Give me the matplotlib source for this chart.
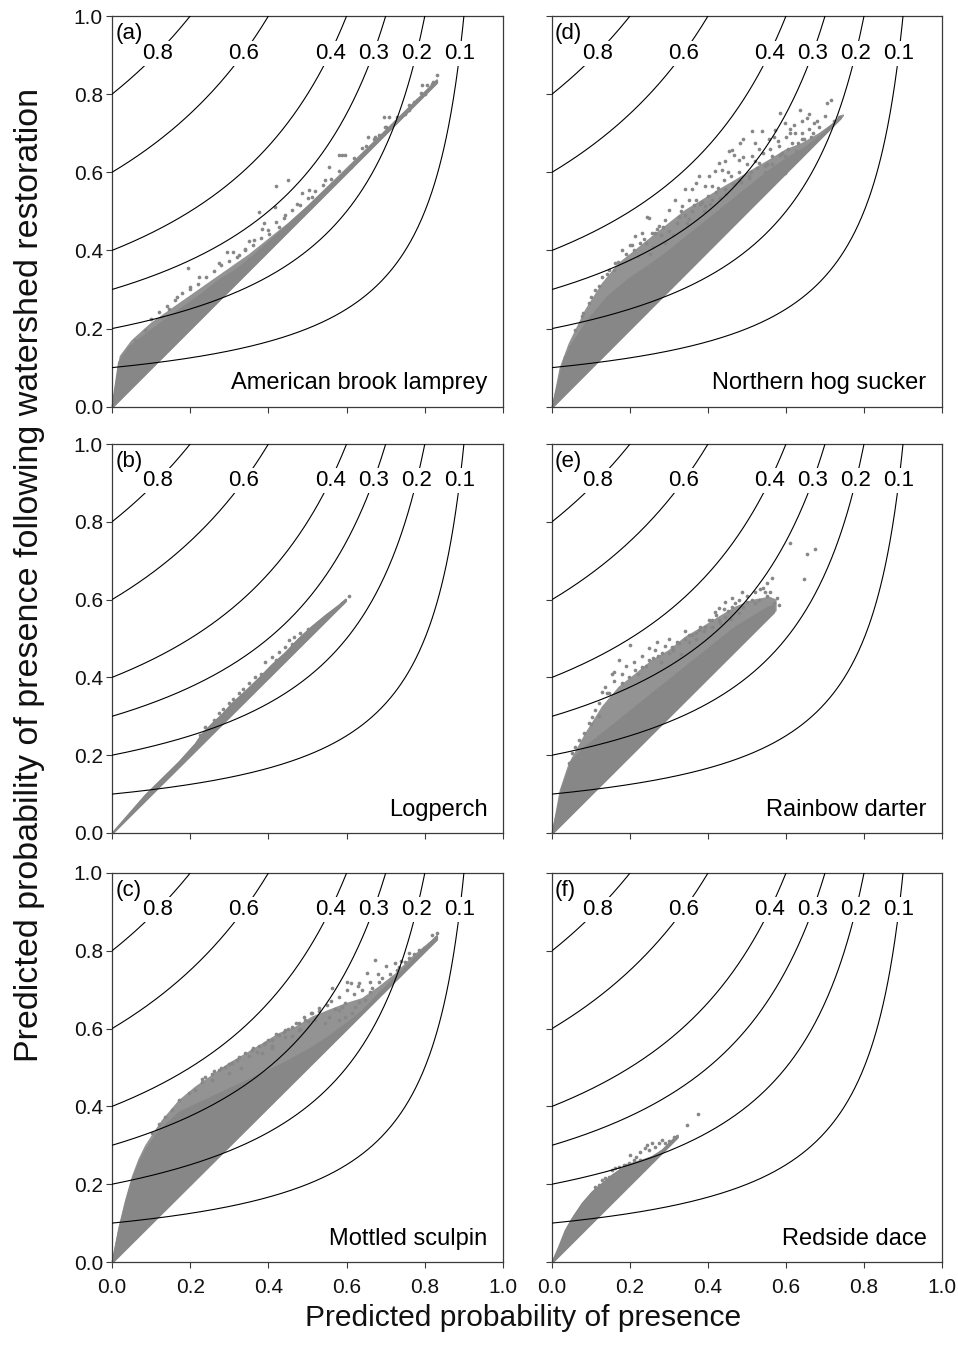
import matplotlib
matplotlib.use('Agg')
import matplotlib.pyplot as plt
import numpy as np

plt.rcParams['font.family'] = ['Liberation Sans', 'DejaVu Sans']

# ---------------- data ----------------
contour_levels = [0.8, 0.6, 0.4, 0.3, 0.2, 0.1]
contour_labels = ['0.8', '0.6', '0.4', '0.3', '0.2', '0.1']
tick_values = [0.0, 0.2, 0.4, 0.6, 0.8, 1.0]
tick_labels = ['0.0', '0.2', '0.4', '0.6', '0.8', '1.0']
panel_letters = ['(a)', '(b)', '(c)', '(d)', '(e)', '(f)']
species = ['American brook lamprey', 'Logperch', 'Mottled sculpin',
           'Northern hog sucker', 'Rainbow darter', 'Redside dace']

# Each panel: solid core (between 1:1 line and core upper edge), speckled
# mid-density band (up to mid upper edge) and individual sparse points.

# (a) American brook lamprey
a_core_x = [0, 0.017, 0.043, 0.077, 0.111, 0.145, 0.188, 0.23, 0.273, 0.315, 0.358, 0.40, 0.443, 0.511, 0.597, 0.682, 0.76, 0.83]
a_core_y = [0, 0.115, 0.153, 0.179, 0.205, 0.23, 0.26, 0.29, 0.324, 0.35, 0.384, 0.422, 0.46, 0.522, 0.604, 0.688, 0.765, 0.835]
a_mid_x = [0, 0.02, 0.05, 0.10, 0.15, 0.20, 0.25, 0.30, 0.35, 0.40, 0.45, 0.50, 0.60, 0.70, 0.80, 0.83]
a_mid_y = [0, 0.13, 0.17, 0.215, 0.25, 0.285, 0.32, 0.355, 0.39, 0.43, 0.47, 0.515, 0.612, 0.71, 0.808, 0.838]
a_pts_x = [0.831, 0.818, 0.806, 0.793, 0.801, 0.780, 0.772, 0.759, 0.750, 0.708, 0.695, 0.725, 0.699, 0.682, 0.673, 0.656, 0.639,
           0.597, 0.588, 0.580, 0.610, 0.554, 0.546, 0.563, 0.450, 0.419, 0.503, 0.512, 0.486, 0.375, 0.418, 0.443, 0.473,
           0.426, 0.401, 0.384, 0.362, 0.341, 0.324, 0.294, 0.350, 0.273, 0.194, 0.222, 0.200, 0.166, 0.145, 0.128, 0.085,
           0.060, 0.034,
           0.10, 0.12, 0.14, 0.16, 0.18, 0.20, 0.22, 0.24, 0.26, 0.28, 0.30, 0.32, 0.34, 0.36, 0.38, 0.40, 0.42, 0.44,
           0.46, 0.48, 0.50, 0.52, 0.54, 0.56, 0.58, 0.62, 0.65, 0.67, 0.70, 0.73, 0.76, 0.79, 0.82, 0.31, 0.35, 0.39]
a_pts_y = [0.848, 0.827, 0.823, 0.823, 0.801, 0.784, 0.780, 0.759, 0.750, 0.742, 0.742, 0.729, 0.716, 0.695, 0.691, 0.691, 0.661,
           0.644, 0.644, 0.644, 0.614, 0.614, 0.580, 0.571, 0.581, 0.566, 0.554, 0.537, 0.546, 0.499, 0.512, 0.490, 0.520,
           0.460, 0.443, 0.456, 0.426, 0.401, 0.388, 0.396, 0.379, 0.367, 0.355, 0.332, 0.307, 0.280, 0.251, 0.230, 0.196,
           0.170, 0.132,
           0.225, 0.242, 0.258, 0.272, 0.292, 0.302, 0.315, 0.333, 0.347, 0.362, 0.372, 0.384, 0.404, 0.413, 0.433, 0.452,
           0.472, 0.483, 0.503, 0.517, 0.533, 0.553, 0.567, 0.583, 0.603, 0.637, 0.668, 0.686, 0.717, 0.742, 0.772, 0.802,
           0.832, 0.395, 0.425, 0.47]

# (b) Logperch
b_core_x = [0, 0.085, 0.171, 0.213, 0.230, 0.256, 0.281, 0.307, 0.341, 0.375, 0.409, 0.443, 0.477, 0.512, 0.546, 0.580, 0.597]
b_core_y = [0, 0.098, 0.183, 0.230, 0.255, 0.282, 0.305, 0.334, 0.365, 0.398, 0.433, 0.464, 0.500, 0.532, 0.560, 0.586, 0.601]
b_mid_x = b_core_x
b_mid_y = b_core_y
b_pts_x = [0.605, 0.588, 0.482, 0.465, 0.452, 0.443, 0.426, 0.409, 0.392, 0.367, 0.350, 0.324, 0.298, 0.273, 0.239,
           0.50, 0.46, 0.42, 0.38, 0.335, 0.31, 0.285, 0.26, 0.225]
b_pts_y = [0.609, 0.592, 0.513, 0.505, 0.496, 0.479, 0.466, 0.453, 0.440, 0.402, 0.385, 0.359, 0.333, 0.308, 0.273,
           0.525, 0.485, 0.445, 0.41, 0.37, 0.345, 0.318, 0.29, 0.252]

# (c) Mottled sculpin
c_core_x = [0, 0.017, 0.034, 0.051, 0.068, 0.085, 0.111, 0.128, 0.171, 0.213, 0.256, 0.298, 0.341, 0.384, 0.426, 0.469,
            0.512, 0.554, 0.597, 0.639, 0.682, 0.75, 0.80, 0.83]
c_core_y = [0, 0.082, 0.151, 0.211, 0.254, 0.288, 0.325, 0.345, 0.385, 0.405, 0.425, 0.445, 0.465, 0.485, 0.505, 0.528,
            0.552, 0.58, 0.612, 0.645, 0.690, 0.758, 0.808, 0.838]
c_mid_x = [0, 0.017, 0.034, 0.051, 0.068, 0.085, 0.111, 0.128, 0.171, 0.213, 0.256, 0.298, 0.341, 0.384, 0.426, 0.469,
           0.512, 0.554, 0.597, 0.639, 0.682, 0.725, 0.767, 0.818, 0.83]
c_mid_y = [0, 0.09, 0.16, 0.22, 0.265, 0.30, 0.34, 0.365, 0.416, 0.451, 0.481, 0.511, 0.536, 0.562, 0.588, 0.605,
           0.631, 0.648, 0.665, 0.678, 0.708, 0.742, 0.785, 0.828, 0.84]
c_pts_x = [0.831, 0.818, 0.823, 0.810, 0.797, 0.784, 0.772, 0.759, 0.750, 0.733, 0.725, 0.729, 0.673, 0.652, 0.631, 0.610,
           0.601, 0.682, 0.691, 0.665, 0.661, 0.648, 0.631, 0.622, 0.597, 0.588, 0.580, 0.563, 0.529, 0.512, 0.520, 0.494,
           0.477, 0.460, 0.443, 0.426, 0.409, 0.392, 0.375, 0.358, 0.341, 0.324, 0.307, 0.290, 0.273, 0.256, 0.239, 0.230,
           0.554, 0.546, 0.597, 0.614, 0.580, 0.477, 0.443, 0.409, 0.384, 0.298, 0.256, 0.213, 0.196, 0.171, 0.153, 0.136,
           0.119, 0.102,
           0.23, 0.26, 0.28, 0.30, 0.32, 0.33, 0.35, 0.36, 0.37, 0.39, 0.40, 0.41, 0.42, 0.44, 0.45, 0.46, 0.47, 0.48,
           0.49, 0.50, 0.51, 0.53, 0.55, 0.56, 0.57, 0.58, 0.60, 0.62, 0.63, 0.64, 0.66, 0.68, 0.70, 0.71, 0.74, 0.76]
c_pts_y = [0.845, 0.841, 0.828, 0.815, 0.806, 0.802, 0.793, 0.781, 0.772, 0.759, 0.768, 0.751, 0.776, 0.742, 0.716, 0.716,
           0.721, 0.721, 0.729, 0.704, 0.695, 0.674, 0.669, 0.656, 0.665, 0.656, 0.648, 0.704, 0.652, 0.639, 0.622, 0.622,
           0.614, 0.605, 0.596, 0.584, 0.571, 0.562, 0.554, 0.545, 0.536, 0.528, 0.511, 0.502, 0.494, 0.483, 0.476, 0.464,
           0.631, 0.614, 0.631, 0.639, 0.622, 0.596, 0.579, 0.554, 0.536, 0.485, 0.468, 0.442, 0.434, 0.416, 0.391, 0.374,
           0.356, 0.331,
           0.47, 0.49, 0.50, 0.51, 0.52, 0.50, 0.53, 0.55, 0.54, 0.56, 0.57, 0.55, 0.585, 0.59, 0.60, 0.58, 0.615, 0.60,
           0.63, 0.62, 0.64, 0.645, 0.66, 0.67, 0.65, 0.68, 0.70, 0.69, 0.71, 0.70, 0.72, 0.74, 0.76, 0.74, 0.775, 0.795]

# (d) Northern hog sucker
d_core_x = [0, 0.03, 0.05, 0.09, 0.14, 0.20, 0.26, 0.30, 0.35, 0.40, 0.45, 0.50, 0.55, 0.60, 0.65, 0.70, 0.74]
d_core_y = [0, 0.12, 0.16, 0.22, 0.28, 0.33, 0.37, 0.40, 0.44, 0.48, 0.52, 0.56, 0.60, 0.635, 0.665, 0.705, 0.745]
d_mid_x = [0, 0.02, 0.043, 0.085, 0.128, 0.171, 0.214, 0.256, 0.299, 0.342, 0.385, 0.427, 0.47, 0.513, 0.556, 0.598, 0.641, 0.684, 0.726, 0.745]
d_mid_y = [0, 0.10, 0.162, 0.248, 0.316, 0.368, 0.402, 0.436, 0.47, 0.504, 0.53, 0.556, 0.581, 0.607, 0.632, 0.658, 0.675, 0.70, 0.73, 0.748]
d_pts_x = [0.716, 0.705, 0.737, 0.722, 0.658, 0.637, 0.641, 0.671, 0.654, 0.585, 0.598, 0.624, 0.611, 0.513, 0.538, 0.573,
           0.491, 0.483, 0.462, 0.453, 0.466, 0.444, 0.427, 0.436, 0.419, 0.479, 0.521, 0.556, 0.581, 0.598, 0.615, 0.632,
           0.564, 0.547, 0.530, 0.504, 0.402, 0.376, 0.368, 0.393, 0.359, 0.342, 0.350, 0.333, 0.316, 0.299, 0.291, 0.244,
           0.248, 0.274, 0.256, 0.231, 0.214, 0.201, 0.179, 0.162, 0.145, 0.128, 0.111, 0.094, 0.077, 0.060, 0.047, 0.034,
           0.479, 0.513, 0.444, 0.410, 0.393, 0.598, 0.581, 0.641,
           0.19, 0.21, 0.22, 0.24, 0.26, 0.28, 0.30, 0.32, 0.34, 0.36, 0.38, 0.40, 0.42, 0.44, 0.46, 0.48, 0.50, 0.52,
           0.54, 0.56, 0.58, 0.60, 0.62, 0.64, 0.66, 0.68, 0.70, 0.12, 0.14, 0.16, 0.10, 0.08, 0.27, 0.33, 0.37, 0.41,
           0.45, 0.49, 0.53, 0.57, 0.61, 0.17, 0.235, 0.25, 0.29, 0.31, 0.35, 0.39, 0.43, 0.47, 0.51, 0.55, 0.59, 0.63, 0.67,
           0.205, 0.225, 0.265, 0.285, 0.325, 0.345, 0.365, 0.385, 0.405, 0.425, 0.445, 0.465, 0.485, 0.505, 0.525, 0.545,
           0.565, 0.585, 0.605, 0.625, 0.645, 0.665, 0.685]
d_pts_y = [0.786, 0.778, 0.742, 0.731, 0.748, 0.759, 0.731, 0.726, 0.739, 0.752, 0.726, 0.701, 0.701, 0.705, 0.705, 0.709,
           0.684, 0.675, 0.658, 0.654, 0.645, 0.628, 0.624, 0.607, 0.603, 0.632, 0.675, 0.684, 0.667, 0.641, 0.675, 0.650,
           0.641, 0.615, 0.624, 0.590, 0.590, 0.590, 0.573, 0.564, 0.556, 0.556, 0.530, 0.513, 0.530, 0.504, 0.479, 0.485,
           0.483, 0.462, 0.444, 0.444, 0.436, 0.415, 0.402, 0.368, 0.350, 0.333, 0.299, 0.265, 0.231, 0.197, 0.154, 0.128,
           0.581, 0.641, 0.556, 0.530, 0.513, 0.598, 0.607, 0.684,
           0.39, 0.40, 0.385, 0.42, 0.41, 0.44, 0.45, 0.47, 0.49, 0.50, 0.52, 0.54, 0.55, 0.58, 0.59, 0.60, 0.62, 0.63,
           0.65, 0.66, 0.68, 0.69, 0.72, 0.70, 0.71, 0.73, 0.745, 0.31, 0.34, 0.35, 0.28, 0.24, 0.455, 0.50, 0.53, 0.565,
           0.60, 0.64, 0.66, 0.69, 0.71, 0.37, 0.43, 0.39, 0.42, 0.44, 0.48, 0.50, 0.535, 0.57, 0.60, 0.62, 0.65, 0.675, 0.70,
           0.415, 0.42, 0.445, 0.46, 0.485, 0.47, 0.515, 0.525, 0.52, 0.56, 0.545, 0.57, 0.575, 0.585, 0.61, 0.60,
           0.62, 0.645, 0.66, 0.655, 0.685, 0.69, 0.715]

# (e) Rainbow darter
e_core_x = [0, 0.026, 0.051, 0.085, 0.128, 0.171, 0.214, 0.256, 0.299, 0.342, 0.385, 0.427, 0.470, 0.513, 0.556, 0.568]
e_core_y = [0, 0.119, 0.188, 0.222, 0.256, 0.290, 0.325, 0.359, 0.393, 0.428, 0.462, 0.496, 0.530, 0.556, 0.582, 0.585]
e_mid_x = [0, 0.02, 0.043, 0.085, 0.128, 0.171, 0.214, 0.256, 0.299, 0.342, 0.385, 0.427, 0.470, 0.513, 0.556, 0.573]
e_mid_y = [0, 0.11, 0.179, 0.256, 0.325, 0.376, 0.41, 0.445, 0.47, 0.505, 0.53, 0.556, 0.582, 0.599, 0.607, 0.60]
e_pts_x = [0.611, 0.654, 0.675, 0.645, 0.564, 0.551, 0.534, 0.547, 0.577, 0.581, 0.560, 0.513, 0.500, 0.487, 0.462, 0.444,
           0.427, 0.419, 0.402, 0.393, 0.376, 0.368, 0.350, 0.342, 0.325, 0.308, 0.299, 0.282, 0.271, 0.248, 0.201, 0.171,
           0.158, 0.154, 0.248, 0.231, 0.214, 0.197, 0.179, 0.137, 0.128, 0.145, 0.120, 0.111, 0.103, 0.094, 0.081, 0.068,
           0.060, 0.051, 0.043, 0.462, 0.479, 0.521, 0.530, 0.410, 0.427, 0.444,
           0.14, 0.16, 0.18, 0.19, 0.21, 0.22, 0.24, 0.26, 0.265, 0.28, 0.29, 0.31, 0.32, 0.33, 0.35, 0.36, 0.37, 0.38,
           0.39, 0.41, 0.42, 0.43, 0.45, 0.46, 0.47, 0.48, 0.49, 0.50, 0.52, 0.53, 0.54, 0.55, 0.56, 0.57, 0.12, 0.10,
           0.23, 0.27, 0.30, 0.34, 0.44]
e_pts_y = [0.746, 0.716, 0.730, 0.652, 0.655, 0.642, 0.626, 0.620, 0.603, 0.586, 0.569, 0.599, 0.595, 0.620, 0.603, 0.595,
           0.578, 0.569, 0.548, 0.530, 0.522, 0.513, 0.509, 0.500, 0.488, 0.479, 0.462, 0.462, 0.455, 0.475, 0.483, 0.445,
           0.415, 0.410, 0.445, 0.428, 0.419, 0.402, 0.385, 0.376, 0.363, 0.359, 0.333, 0.316, 0.299, 0.282, 0.256, 0.239,
           0.222, 0.205, 0.179, 0.582, 0.565, 0.590, 0.556, 0.548, 0.548, 0.556,
           0.36, 0.39, 0.41, 0.43, 0.44, 0.41, 0.43, 0.45, 0.47, 0.44, 0.48, 0.47, 0.49, 0.46, 0.49, 0.51, 0.50, 0.53,
           0.52, 0.53, 0.56, 0.54, 0.57, 0.55, 0.59, 0.60, 0.58, 0.61, 0.62, 0.60, 0.63, 0.61, 0.62, 0.59, 0.30, 0.28,
           0.455, 0.49, 0.50, 0.52, 0.575]

# (f) Redside dace
f_core_x = [0, 0.017, 0.034, 0.051, 0.077, 0.103, 0.128, 0.154, 0.179, 0.205, 0.231, 0.256, 0.282, 0.308, 0.321]
f_core_y = [0, 0.039, 0.082, 0.112, 0.151, 0.181, 0.202, 0.224, 0.241, 0.254, 0.262, 0.271, 0.288, 0.314, 0.326]
f_mid_x = f_core_x
f_mid_y = f_core_y
f_pts_x = [0.374, 0.347, 0.312, 0.282, 0.274, 0.265, 0.256, 0.244, 0.248, 0.239, 0.226, 0.226, 0.209, 0.201, 0.197, 0.184,
           0.171, 0.162, 0.154, 0.145, 0.137, 0.128, 0.120, 0.111, 0.29, 0.30, 0.215, 0.19]
f_pts_y = [0.380, 0.353, 0.322, 0.314, 0.305, 0.296, 0.305, 0.301, 0.288, 0.292, 0.284, 0.262, 0.262, 0.275, 0.254, 0.249,
           0.245, 0.241, 0.237, 0.219, 0.215, 0.211, 0.198, 0.194, 0.305, 0.31, 0.27, 0.25]

panels = [
    (a_core_x, a_core_y, a_mid_x, a_mid_y, a_pts_x, a_pts_y),
    (b_core_x, b_core_y, b_mid_x, b_mid_y, b_pts_x, b_pts_y),
    (c_core_x, c_core_y, c_mid_x, c_mid_y, c_pts_x, c_pts_y),
    (d_core_x, d_core_y, d_mid_x, d_mid_y, d_pts_x, d_pts_y),
    (e_core_x, e_core_y, e_mid_x, e_mid_y, e_pts_x, e_pts_y),
    (f_core_x, f_core_y, f_mid_x, f_mid_y, f_pts_x, f_pts_y),
]

# ---------------- layout ----------------
W, H = 958, 1351
fig = plt.figure(figsize=(W / 100, H / 100), dpi=100)

col_left = [112 / W, 552 / W]
col_width = [391 / W, 390 / W]
row_top_px = [16, 444, 873]
row_bot_px = [406.7, 833, 1262]

dot_color = '#878787'
mid_color = '#939393'
spine_color = '#3a3a3a'
label_y = 0.905

for idx, (cx, cy, mx, my, px, py) in enumerate(panels):
    col = idx // 3
    row = idx % 3
    bottom = 1 - row_bot_px[row] / H
    height = (row_bot_px[row] - row_top_px[row]) / H
    ax = fig.add_axes([col_left[col], bottom, col_width[col], height])

    mx_arr = np.asarray(mx)
    cx_arr = np.asarray(cx)
    ax.fill_between(mx_arr, mx_arr, my, facecolor=mid_color, edgecolor=mid_color,
                    linewidth=1.0, zorder=2, clip_on=False)
    ax.fill_between(cx_arr, cx_arr, cy, facecolor=dot_color, edgecolor=dot_color,
                    linewidth=1.6, zorder=2, clip_on=False)
    ax.scatter(px, py, s=7, color=dot_color, linewidths=0, zorder=2, clip_on=False)

    # reference curves
    for lev, lab in zip(contour_levels, contour_labels):
        xs = np.linspace(0, 1 - lev, 300)
        ax.plot(xs, lev / (1 - xs), color='black', lw=0.8, zorder=3)
        ax.text(1 - lev / label_y, label_y, lab, fontsize=16, ha='center', va='center',
                zorder=4, bbox=dict(facecolor='white', edgecolor='none', pad=1.5))

    ax.text(0.008, 0.955, panel_letters[idx], fontsize=16, ha='left', va='center', zorder=5)
    ax.text(0.96, 0.06, species[idx], fontsize=17, ha='right', va='center', zorder=5)

    ax.set_xlim(0, 1)
    ax.set_ylim(0, 1)
    ax.set_xticks(tick_values)
    ax.set_yticks(tick_values)
    if row == 2:
        ax.set_xticklabels(tick_labels)
    else:
        ax.set_xticklabels([])
    if col == 0:
        ax.set_yticklabels(tick_labels)
    else:
        ax.set_yticklabels([])
    ax.tick_params(direction='out', length=4.5, width=0.8, color=spine_color,
                   labelsize=15, labelcolor='#111111')
    ax.tick_params(axis='x', pad=7)
    ax.tick_params(axis='y', pad=2)
    for sp in ax.spines.values():
        sp.set_color(spine_color)
        sp.set_linewidth(0.9)

fig.text(523.5 / W, 1 - 1318 / H, 'Predicted probability of presence', fontsize=21.6,
         ha='center', va='center', color='#111111')
fig.text(30 / W, 1 - 575 / H, 'Predicted probability of presence following watershed restoration',
         fontsize=24.5, ha='center', va='center', rotation=90, color='#111111')

fig.savefig('out.png', dpi=100)
